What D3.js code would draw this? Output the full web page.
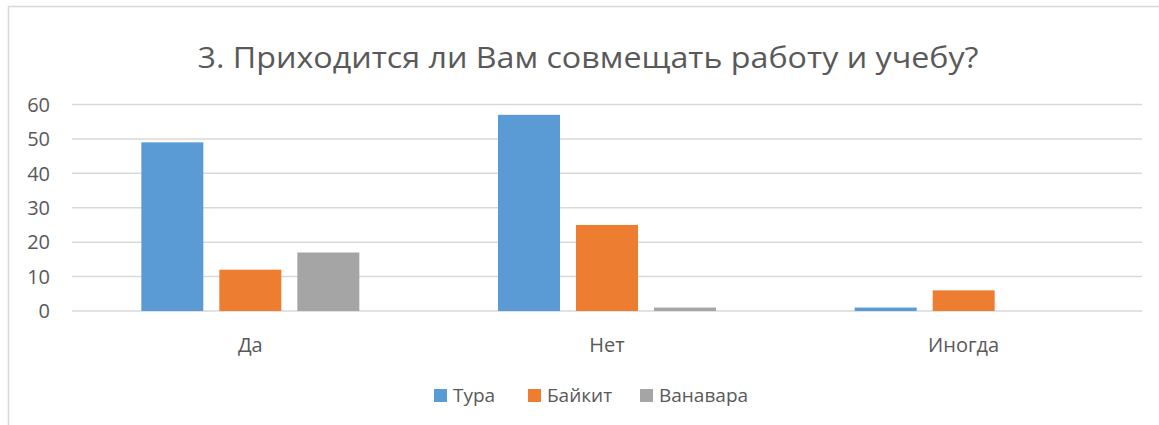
<!DOCTYPE html>
<html>
<head>
<meta charset="utf-8">
<script src="https://cdn.jsdelivr.net/npm/d3@7"></script>
<style>
  body { margin: 0; background: #fff; }
  text { font-family: "Open Sans", "Noto Sans", sans-serif; fill: #595959; }
</style>
</head>
<body>
<script>
var categories = ["Да", "Нет", "Иногда"];
var seriesNames = ["Тура", "Байкит", "Ванавара"];
var tura = [49, 57, 1];
var baykit = [12, 25, 6];
var vanavara = [17, 1, 0];
var yTicks = [0, 10, 20, 30, 40, 50, 60];
var colors = ["#5b9bd5", "#ed7d31", "#a5a5a5"];

var width = 1159, height = 425;
var values = [tura, baykit, vanavara];

var svg = d3.select("body").append("svg")
  .attr("width", width)
  .attr("height", height);

// chart frame
svg.append("rect")
  .attr("x", 8.5).attr("y", 6.5)
  .attr("width", 1200).attr("height", 500)
  .attr("fill", "#fff")
  .attr("stroke", "#d9d9d9")
  .attr("stroke-width", 1.5);

svg.append("text")
  .attr("x", 588).attr("y", 68)
  .attr("text-anchor", "middle")
  .attr("textLength", 781)
  .attr("lengthAdjust", "spacingAndGlyphs")
  .style("font-size", "30px")
  .text("3. Приходится ли Вам совмещать работу и учебу?");

var x0 = d3.scaleBand()
  .domain(categories)
  .range([72, 1142]);

var x1 = d3.scaleBand()
  .domain(seriesNames)
  .range([0, 218])
  .paddingInner(0.205);

var y = d3.scaleLinear()
  .domain([0, 60])
  .range([311, 104.5]);

// gridlines
svg.append("g")
  .selectAll("line")
  .data(yTicks)
  .enter().append("line")
  .attr("x1", 72).attr("x2", 1142)
  .attr("y1", function(d) { return y(d); })
  .attr("y2", function(d) { return y(d); })
  .attr("stroke", "#d9d9d9")
  .attr("stroke-width", 1.5);

svg.append("g")
  .selectAll("text")
  .data(yTicks)
  .enter().append("text")
  .attr("x", 50)
  .attr("y", function(d) { return y(d); })
  .attr("dy", "0.36em")
  .attr("text-anchor", "end")
  .style("font-size", "20px")
  .text(function(d) { return d; });

var groups = svg.append("g")
  .selectAll("g")
  .data(categories)
  .enter().append("g")
  .attr("transform", function(d) { return "translate(" + (x0(d) + (x0.bandwidth() - 218) / 2) + ",0)"; });

groups.selectAll("rect")
  .data(function(d, i) {
    return seriesNames.map(function(s, j) { return { s: s, v: values[j][i], c: colors[j] }; });
  })
  .enter().append("rect")
  .attr("x", function(d) { return x1(d.s); })
  .attr("y", function(d) { return y(d.v); })
  .attr("width", x1.bandwidth())
  .attr("height", function(d) { return y(0) - y(d.v); })
  .attr("fill", function(d) { return d.c; });

svg.append("g")
  .selectAll("text")
  .data(categories)
  .enter().append("text")
  .attr("x", function(d) { return x0(d) + x0.bandwidth() / 2; })
  .attr("y", 352)
  .attr("text-anchor", "middle")
  .style("font-size", "20px")
  .text(function(d) { return d; });

// legend
var legendX = [434, 528, 640];
var legend = svg.append("g")
  .selectAll("g")
  .data(seriesNames)
  .enter().append("g")
  .attr("transform", function(d, i) { return "translate(" + legendX[i] + ",389)"; });

legend.append("rect")
  .attr("width", 13).attr("height", 13)
  .attr("fill", function(d, i) { return colors[i]; });

legend.append("text")
  .attr("x", 19).attr("y", 13)
  .style("font-size", "19px")
  .text(function(d) { return d; });
</script>
</body>
</html>
